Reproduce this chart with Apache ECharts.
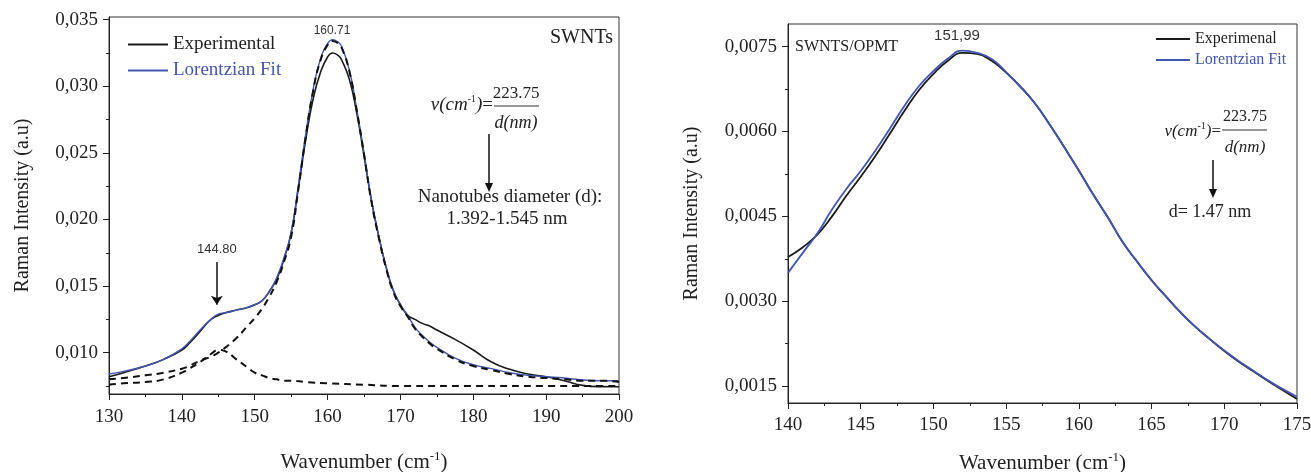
<!DOCTYPE html>
<html lang="en" style="height: 100%">
  <head>
    <meta charset="utf-8" />
  </head>
  <body style="height: 100%; margin: 0; background: #fff">
    <div id="container" style="width: 1311px; height: 472px"></div>
    <script src="https://cdn.jsdelivr.net/npm/echarts@6.0.0/dist/echarts.min.js"></script>
    <script type="text/javascript">
      // ---- left panel: SWNTs ----
      var swntWave = [130, 132, 135, 137.5, 140, 141, 142.5, 144, 145, 146, 147.5, 149, 150, 151, 152, 153, 154, 155,
        156, 157, 158, 159, 160, 160.7, 161.5, 162, 163, 164, 165, 166, 167, 168, 169, 170, 171, 172, 173, 174, 175,
        177.5, 180, 182.5, 185, 187.5, 190, 192.5, 195, 197.5, 200];
      var swntExp = [0.0082, 0.0085, 0.0090, 0.0095, 0.0102, 0.0107, 0.0116, 0.0125, 0.0128, 0.0130, 0.0132, 0.0134, 0.0136, 0.0139, 0.0146, 0.0155, 0.0170, 0.0190,
        0.0224, 0.0260, 0.0290, 0.0310, 0.0322, 0.0325, 0.0323, 0.0319, 0.0305, 0.0280, 0.0248, 0.0215, 0.0188, 0.0165, 0.0147, 0.0136, 0.0128, 0.0125, 0.0122, 0.0120, 0.0117,
        0.0110, 0.0102, 0.0093, 0.00875, 0.0084, 0.0082, 0.0079, 0.00755, 0.00745, 0.00744];
      var swntFit = [0.0084, 0.0086, 0.0090, 0.0095, 0.0103, 0.0108, 0.0117, 0.0125, 0.0129, 0.0130, 0.0132, 0.0134, 0.0136, 0.0139, 0.0146, 0.0156, 0.0171, 0.0190,
        0.0226, 0.0264, 0.0297, 0.0320, 0.0332, 0.0335, 0.0333, 0.0329, 0.0312, 0.0283, 0.0250, 0.0215, 0.0188, 0.0165, 0.0147, 0.0136, 0.0128, 0.0119, 0.0113, 0.0108, 0.0104,
        0.0096, 0.0091, 0.0088, 0.0085, 0.0083, 0.0082, 0.0081, 0.00795, 0.0079, 0.0079];
      var swntPeak2 = [0.0080, 0.0081, 0.0083, 0.0085, 0.0088, 0.0090, 0.0094, 0.0097, 0.0100, 0.0104, 0.0111, 0.0120, 0.0126, 0.0133, 0.0142, 0.0153, 0.0168, 0.0187,
        0.0223, 0.0262, 0.0296, 0.0319, 0.0331, 0.0334, 0.0332, 0.0328, 0.0311, 0.0282, 0.0249, 0.0214, 0.0187, 0.0164, 0.0146, 0.0135, 0.0127, 0.0118, 0.0112, 0.0107, 0.0103,
        0.0095, 0.0090, 0.0087, 0.0084, 0.0082, 0.0081, 0.0080, 0.0079, 0.0079, 0.0078];
      var swntWave1 = [130, 132, 135, 137.5, 140, 141, 142.5, 144, 145, 146, 147.5, 149, 150, 151, 152, 153, 154, 155, 157, 160, 165, 170, 180, 190, 200];
      var swntPeak1 = [0.0076, 0.0077, 0.0078, 0.0080, 0.0085, 0.0088, 0.0093, 0.0099, 0.0102, 0.0101, 0.0095, 0.0089, 0.0085, 0.0083, 0.0081, 0.0080, 0.0079, 0.0079, 0.0078, 0.0077, 0.0076, 0.0075, 0.0075, 0.0075, 0.0075];
      var swntTicks = [0.010, 0.015, 0.020, 0.025, 0.030, 0.035];
      var swntMinor = [0.0075, 0.0125, 0.0175, 0.0225, 0.0275, 0.0325];

      // ---- right panel: SWNTS/OPMT ----
      var opmtWave = [140, 141, 142, 143, 144, 145, 146, 147, 148, 149, 150, 151, 152, 153, 154, 155, 156, 157,
        158, 159, 160, 161, 162, 163, 164, 165, 166, 167, 168, 169, 170, 171, 172, 173, 174, 175];
      var opmtExp = [0.00378, 0.00395, 0.00417, 0.00449, 0.00486, 0.00520, 0.00556, 0.00596, 0.00636, 0.00673, 0.00702, 0.00725, 0.00739, 0.00737, 0.00725, 0.00704, 0.00679, 0.00649,
        0.00612, 0.00572, 0.00531, 0.00488, 0.00448, 0.00405, 0.00370, 0.00337, 0.00308, 0.00280, 0.00255, 0.00233, 0.00212, 0.00193, 0.00176, 0.00159, 0.00143, 0.00127];
      var opmtFit = [0.00350, 0.00385, 0.00419, 0.00461, 0.00498, 0.00530, 0.00566, 0.00605, 0.00645, 0.00680, 0.00707, 0.00729, 0.00743, 0.00739, 0.00728, 0.00705, 0.00678, 0.00649,
        0.00612, 0.00572, 0.00531, 0.00488, 0.00448, 0.00405, 0.00370, 0.00337, 0.00308, 0.00280, 0.00255, 0.00233, 0.00213, 0.00194, 0.00177, 0.00160, 0.00145, 0.00131];
      var opmtTicks = [0.0015, 0.0030, 0.0045, 0.0060, 0.0075];
      var opmtMinor = [0.00225, 0.00375, 0.00525, 0.00675];

      var serif = "Liberation Serif";
      var sans = "Liberation Sans";
      var ink = "#1a1a1a";
      var blue = "#4256ad";

      function pairs(xs, ys) {
        return xs.map(function (x, i) { return [x, ys[i]]; });
      }

      function yAxisMain(grid, min, max, ticks, dec, gap) {
        return {
          gridIndex: grid, type: "value", min: min, max: max,
          axisLine: { show: true, lineStyle: { color: "#222" } },
          axisTick: { show: true, length: 6, customValues: ticks, lineStyle: { color: "#222" } },
          axisLabel: {
            customValues: ticks, margin: 11, fontFamily: serif, fontSize: 19, color: "#222",
            formatter: function (v) { return v.toFixed(dec).replace(".", ","); },
          },
          splitLine: { show: false },
          name: "Raman Intensity (a.u)", nameLocation: "middle", nameGap: gap,
          nameTextStyle: { fontFamily: serif, fontSize: 20, color: "#222" },
        };
      }
      function yAxisMinor(grid, min, max, ticks) {
        return {
          gridIndex: grid, type: "value", min: min, max: max, position: "left",
          axisLine: { show: false },
          axisTick: { show: true, length: 3, customValues: ticks, lineStyle: { color: "#222" } },
          axisLabel: { show: false },
          splitLine: { show: false },
        };
      }
      function xAxis(grid, min, max, interval, margin, gap) {
        return {
          gridIndex: grid, type: "value", min: min, max: max, interval: interval,
          axisLine: { lineStyle: { color: "#222" } },
          axisTick: { length: 6, lineStyle: { color: "#222" } },
          minorTick: { show: true, splitNumber: 2, length: 3, lineStyle: { color: "#222" } },
          axisLabel: { margin: margin, fontFamily: serif, fontSize: 19, color: "#222" },
          splitLine: { show: false },
          name: "{a|Wavenumber (cm}{s|-1}{a|)}", nameLocation: "middle", nameGap: gap,
          nameTextStyle: {
            rich: {
              a: { fontFamily: serif, fontSize: 21, color: "#222", lineHeight: 24 },
              s: { fontFamily: serif, fontSize: 13, color: "#222", verticalAlign: "top", lineHeight: 14 },
            },
          },
        };
      }

      function arrow(x, y1, y2) {
        return {
          type: "group",
          children: [
            { type: "line", shape: { x1: x, y1: y1, x2: x, y2: y2 - 6 }, style: { stroke: "#111", lineWidth: 1.5 } },
            { type: "polygon", shape: { points: [[x - 4, y2 - 9], [x + 4, y2 - 9], [x, y2]] }, style: { fill: "#111" } },
          ],
        };
      }
      function txt(x, y, text, size, align, extra) {
        var style = { text: text, fontFamily: serif, fontSize: size, fill: "#222", align: align, verticalAlign: "middle" };
        for (var k in extra) style[k] = extra[k];
        return { type: "text", x: x, y: y, style: style };
      }
      function formula(size) {
        return {
          text: "{i|ν(cm}{s|-1}{i|)}{e|=}",
          rich: {
            i: { fontFamily: serif, fontStyle: "italic", fontSize: size, fill: "#222", lineHeight: 22 },
            s: { fontFamily: serif, fontSize: 10, fill: "#222", verticalAlign: "top", lineHeight: 12 },
            e: { fontFamily: serif, fontSize: size, fill: "#222", lineHeight: 22 },
          },
        };
      }

      var dom = document.getElementById("container");
      var myChart = echarts.init(dom, null, { renderer: "canvas" });

      var option = {
        animation: false,
        backgroundColor: "#fff",
        grid: [
          { left: 109, top: 17, right: 692, bottom: 78, outerBoundsMode: "none", show: true, borderColor: "#333", borderWidth: 1 },
          { left: 788, top: 24, right: 14, bottom: 69, outerBoundsMode: "none", show: true, borderColor: "#333", borderWidth: 1 },
        ],
        xAxis: [xAxis(0, 130, 200, 10, 14, 56), xAxis(1, 140, 175, 5, 13, 48)],
        yAxis: [
          yAxisMain(0, 0.0069, 0.0352, swntTicks, 3, 76),
          yAxisMain(1, 0.0012, 0.0079, opmtTicks, 4, 86),
          yAxisMinor(0, 0.0069, 0.0352, swntMinor),
          yAxisMinor(1, 0.0012, 0.0079, opmtMinor),
        ],
        legend: [
          {
            data: [{ name: "Experimental" }, { name: "Lorentzian Fit", textStyle: { color: blue } }],
            left: 123, top: 30, orient: "vertical", icon: "rect", itemWidth: 40, itemHeight: 2, itemGap: 7,
            textStyle: { fontFamily: serif, fontSize: 19, color: "#222" },
          },
          {
            data: [{ name: "Experimenal" }, { name: "Lorentzian Fit", textStyle: { color: blue } }],
            left: 1151, top: 26, orient: "vertical", icon: "rect", itemWidth: 34, itemHeight: 2, itemGap: 5,
            textStyle: { fontFamily: serif, fontSize: 16, color: "#222" },
          },
        ],
        series: [
          {
            name: "Experimental", type: "line", xAxisIndex: 0, yAxisIndex: 0, symbol: "none",
            smooth: 0.5, data: pairs(swntWave, swntExp),
            lineStyle: { color: ink, width: 1.6 }, itemStyle: { color: ink },
            markLine: {
              silent: true, symbol: ["none", "arrow"], symbolSize: 9,
              lineStyle: { color: "#111", width: 1.5, type: "solid" },
              label: { show: true, position: "start", formatter: "144.80", fontFamily: sans, fontSize: 13, color: "#333", distance: 6 },
              data: [[{ coord: [144.8, 0.0168] }, { coord: [144.8, 0.0136] }]],
            },
          },
          {
            name: "Lorentzian Fit", type: "line", xAxisIndex: 0, yAxisIndex: 0, symbol: "none",
            smooth: 0.5, data: pairs(swntWave, swntFit),
            lineStyle: { color: blue, width: 1.4 }, itemStyle: { color: blue },
          },
          {
            name: "Peak 160.71", type: "line", xAxisIndex: 0, yAxisIndex: 0, symbol: "none",
            smooth: 0.5, data: pairs(swntWave, swntPeak2),
            lineStyle: { color: "#111", width: 2, type: [7, 5] },
          },
          {
            name: "Peak 144.80", type: "line", xAxisIndex: 0, yAxisIndex: 0, symbol: "none",
            smooth: 0.5, data: pairs(swntWave1, swntPeak1),
            lineStyle: { color: "#111", width: 2, type: [7, 5] },
          },
          {
            name: "Experimenal", type: "line", xAxisIndex: 1, yAxisIndex: 1, symbol: "none",
            smooth: 0.5, data: pairs(opmtWave, opmtExp),
            lineStyle: { color: ink, width: 1.8 }, itemStyle: { color: ink },
          },
          {
            name: "Lorentzian Fit", type: "line", xAxisIndex: 1, yAxisIndex: 1, symbol: "none",
            smooth: 0.5, data: pairs(opmtWave, opmtFit),
            lineStyle: { color: blue, width: 1.8 }, itemStyle: { color: blue },
          },
        ],
        graphic: [
          // left panel notes
          txt(613, 38, "SWNTs", 20, "right"),
          txt(332, 31, "160.71", 12, "center", { fontFamily: sans, fill: "#333" }),
          txt(493, 105, "", 19, "right", formula(19)),
          txt(516, 94, "223.75", 17, "center"),
          { type: "line", shape: { x1: 494, y1: 106, x2: 539, y2: 106 }, style: { stroke: "#333", lineWidth: 1 } },
          txt(516, 123, "d(nm)", 18, "center", { fontStyle: "italic" }),
          arrow(489, 134, 192),
          txt(510, 197, "Nanotubes diameter (d):", 19, "center"),
          txt(507, 219, "1.392-1.545 nm", 19, "center"),
          // right panel notes
          txt(795, 47, "SWNTS/OPMT", 16, "left"),
          txt(957, 36, "151,99", 15, "center", { fontFamily: sans, fill: "#333" }),
          txt(1221, 132, "", 17, "right", formula(17)),
          txt(1245, 117, "223.75", 16, "center"),
          { type: "line", shape: { x1: 1222, y1: 130, x2: 1267, y2: 130 }, style: { stroke: "#333", lineWidth: 1 } },
          txt(1245, 148, "d(nm)", 17, "center", { fontStyle: "italic" }),
          arrow(1213, 160, 198),
          txt(1210, 212, "d= 1.47 nm", 18, "center"),
        ],
      };

      myChart.setOption(option);
      window.addEventListener("resize", myChart.resize);
    </script>
  </body>
</html>
